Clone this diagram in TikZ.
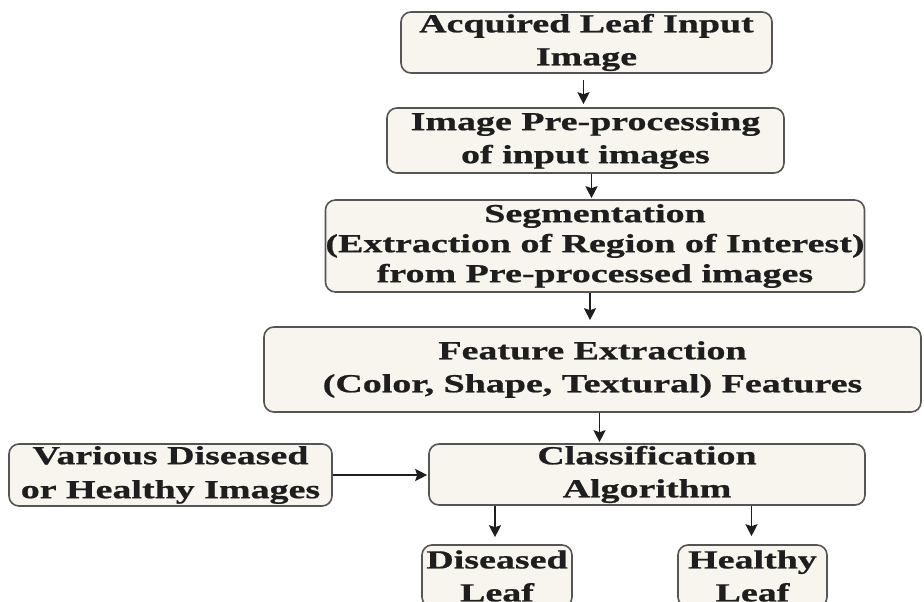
\documentclass[tikz,border=0pt]{standalone}
\usepackage{fontspec}
\setmainfont{Liberation Serif}[FakeStretch=1.46, BoldFeatures={FakeBold=0.8}]
\usetikzlibrary{arrows.meta}
\definecolor{boxfill}{HTML}{F8F5EE}
\definecolor{boxline}{HTML}{555555}
\definecolor{ink}{HTML}{1E1E1E}
\tikzset{
  flowbox/.style={draw=boxline, line width=1.6pt, fill=boxfill, rounded corners=10pt,
    align=center, inner sep=0pt, text=ink,
    font=\fontsize{26pt}{33pt}\selectfont\bfseries},
  flowarrow/.style={draw=ink, line width=1.8pt,
    -{Stealth[length=12pt,width=12pt,inset=2pt]}}
}
\begin{document}
\begin{tikzpicture}[x=1pt,y=-1pt]
  \useasboundingbox (0,0) rectangle (924,602);
  \clip (0,0) rectangle (924,602);

  % processing chain
  \node[flowbox, minimum width=371pt, minimum height=61pt] (acq) at (586.5,42.5)
    {Acquired Leaf Input\\Image};
  \node[flowbox, minimum width=397pt, minimum height=65pt] (pre) at (585.5,140.5)
    {Image Pre-processing\\of input images};
  \node[flowbox, minimum width=538pt, minimum height=92pt,
        font=\fontsize{26pt}{30pt}\selectfont\bfseries] (seg) at (595,246)
    {Segmentation\\(Extraction of Region of Interest)\\from Pre-processed images};
  \node[flowbox, minimum width=657pt, minimum height=85pt] (feat) at (592.5,369.5)
    {Feature Extraction\\(Color, Shape, Textural) Features};
  \node[flowbox, minimum width=436pt, minimum height=61pt] (cls) at (647,474.5)
    {Classification\\Algorithm};
  \node[flowbox, minimum width=323pt, minimum height=62pt,
        font=\fontsize{26pt}{34pt}\selectfont\bfseries] (imgs) at (170.5,475)
    {Various Diseased\\or Healthy Images};

  % outcomes (their lower edges run past the page)
  \node[flowbox, minimum width=150pt, minimum height=62pt] (dis) at (497,576)
    {Diseased\\Leaf};
  \node[flowbox, minimum width=149pt, minimum height=62pt] (hea) at (752.5,576)
    {Healthy\\Leaf};

  % connectors
  \draw[flowarrow, shorten <=6pt, shorten >=3pt]
    ([xshift=-3pt]acq.south) -- ([xshift=-3pt]acq.south |- pre.north);
  \draw[flowarrow, shorten >=1pt]
    ([xshift=6pt]pre.south) -- ([xshift=6pt]pre.south |- seg.north);
  \draw[flowarrow, shorten >=6pt]
    ([xshift=-5pt]seg.south) -- ([xshift=-5pt]seg.south |- feat.north);
  \draw[flowarrow, shorten >=1pt]
    ([xshift=7pt]feat.south) -- ([xshift=7pt]feat.south |- cls.north);
  \draw[flowarrow, shorten >=1pt] (imgs.east) -- (imgs.east -| cls.west);
  \draw[flowarrow, shorten >=7pt]
    ([xshift=-2pt]dis.north |- cls.south) -- ([xshift=-2pt]dis.north);
  \draw[flowarrow, shorten >=8pt]
    ([xshift=-1pt]hea.north |- cls.south) -- ([xshift=-1pt]hea.north);
\end{tikzpicture}
\end{document}
